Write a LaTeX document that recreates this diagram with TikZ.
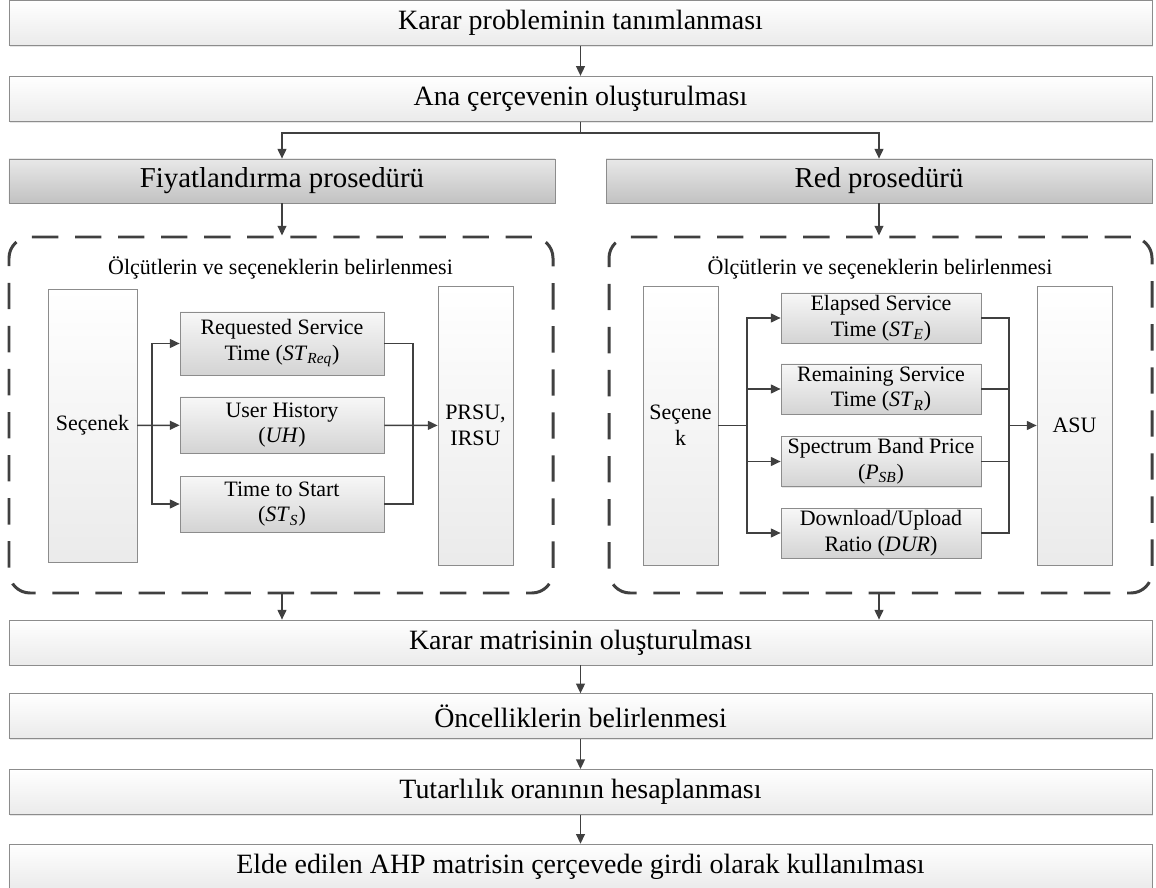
\documentclass[tikz,border=0pt]{standalone}
\usepackage{fontspec}
\setmainfont{Liberation Serif}
\usetikzlibrary{arrows.meta, positioning, calc, shadows}

\definecolor{linegray}{HTML}{404040}
\definecolor{edgegray}{HTML}{8C8C8C}

\begin{document}
\begin{tikzpicture}[
    node distance=0.6cm,
    mainbox/.style={
        draw=edgegray,
        top color=white,
        bottom color=black!8,
        minimum width=22.86cm,
        minimum height=0.9cm,
        inner sep=0pt,
        font=\fontsize{15.9}{19}\selectfont,
        drop shadow={opacity=0.2, shadow xshift=0.8pt, shadow yshift=-0.8pt}
    },
    procbox/.style={
        draw=edgegray,
        top color=black!9,
        bottom color=black!24,
        minimum width=10.92cm,
        minimum height=0.88cm,
        inner sep=0pt,
        font=\fontsize{16.4}{19}\selectfont,
        drop shadow={opacity=0.2, shadow xshift=0.8pt, shadow yshift=-0.8pt}
    },
    group/.style={
        draw=linegray,
        line width=1.7pt,
        dash pattern=on 15pt off 9.5pt,
        rounded corners=12pt,
        minimum height=7.12cm,
        inner sep=0pt
    },
    tall/.style={
        draw=edgegray,
        top color=white,
        bottom color=black!8,
        align=center,
        minimum width=1.5cm,
        minimum height=5.58cm,
        inner sep=1pt,
        font=\fontsize{12.5}{14.7}\selectfont,
        drop shadow={opacity=0.2, shadow xshift=0.8pt, shadow yshift=-0.8pt}
    },
    crit/.style={
        draw=edgegray,
        top color=black!3,
        bottom color=black!17,
        align=center,
        minimum width=4.0cm,
        minimum height=1.0cm,
        inner sep=1pt,
        font=\fontsize{12.5}{14.7}\selectfont,
        drop shadow={opacity=0.2, shadow xshift=0.8pt, shadow yshift=-0.8pt}
    },
    label/.style={
        font=\fontsize{12.5}{14.7}\selectfont
    },
    arrow/.style={
        -{Triangle[length=5.5pt,width=5pt]},
        line width=0.85pt,
        draw=linegray
    },
    line/.style={
        line width=0.85pt,
        draw=linegray
    }
]
\useasboundingbox (0,0) rectangle (23.12,-17.76);

% Main steps (top)
\node (prob) [mainbox] at (11.61,-0.46) {Karar probleminin tanımlanması};
\node (frame) [mainbox, below=of prob] {Ana çerçevenin oluşturulması};

% Procedures
\node (price) [procbox] at (5.64,-3.62) {Fiyatlandırma prosedürü};
\node (drop) [procbox] at (17.58,-3.62) {Red prosedürü};

% Criteria groups
\node (grpL) [group, minimum width=10.88cm] at (5.62,-8.30) {};
\node (grpR) [group, minimum width=10.86cm] at (17.61,-8.30) {};
\node (titleL) [label] at (5.61,-5.36) {Ölçütlerin ve seçeneklerin belirlenmesi};
\node (titleR) [label] at (17.60,-5.36) {Ölçütlerin ve seçeneklerin belirlenmesi};

% Pricing side
\node (optL) [tall, minimum width=1.78cm, minimum height=5.46cm] at (1.85,-8.51) {Seçenek};
\node (req) [crit, minimum width=4.08cm, minimum height=1.26cm] at (5.64,-6.87) {Requested Service\\Time (\textit{ST}\textsubscript{\textit{Req}})};
\node (uh) [crit, minimum width=4.08cm, minimum height=1.12cm] at (5.64,-8.50) {User History\\(\textit{UH})};
\node (tts) [crit, minimum width=4.08cm, minimum height=1.12cm] at (5.64,-10.08) {Time to Start\\(\textit{ST}\textsubscript{\textit{S}})};
\node (prsu) [tall] at (9.51,-8.51) {PRSU,\\IRSU};
\coordinate (splitL) at (3.04,-8.51);
\coordinate (joinL) at (8.26,-8.51);

% Drop side
\node (optR) [tall] at (13.61,-8.51) {Seçene\\k};
\node (est) [crit] at (17.62,-6.36) {Elapsed Service\\Time (\textit{ST}\textsubscript{\textit{E}})};
\node (rst) [crit] at (17.62,-7.78) {Remaining Service\\Time (\textit{ST}\textsubscript{\textit{R}})};
\node (psb) [crit] at (17.62,-9.23) {Spectrum Band Price\\(\textit{P}\textsubscript{\textit{SB}})};
\node (dur) [crit] at (17.62,-10.66) {Download/Upload\\Ratio (\textit{DUR})};
\node (asu) [tall] at (21.49,-8.51) {ASU};
\coordinate (splitR) at (14.94,-8.51);
\coordinate (joinR) at (20.18,-8.51);

% Main steps (bottom)
\node (matrix) [mainbox] at (11.61,-12.85) {Karar matrisinin oluşturulması};
\node (prio) [mainbox, below=0.56cm of matrix] {Öncelliklerin belirlenmesi};
\node (ratio) [mainbox, below=0.6cm of prio] {Tutarlılık oranının hesaplanması};
\node (use) [mainbox, below=0.58cm of ratio] {Elde edilen AHP matrisin çerçevede girdi olarak kullanılması};

% Paths
\coordinate (split) at (11.61,-2.66);
\draw [arrow] (prob) -- (frame);
\draw [line] (frame) -- (split);
\draw [arrow] (split) -| (price);
\draw [arrow] (split) -| (drop);
\draw [arrow] (price) -- (price |- grpL.north);
\draw [arrow] (drop) -- (drop |- grpR.north);

\draw [line] (optL) -- (splitL);
\draw [arrow] (splitL) |- (req);
\draw [arrow] (optL) -- (uh);
\draw [arrow] (splitL) |- (tts);
\draw [line] (req) -| (joinL);
\draw [line] (tts) -| (joinL);
\draw [arrow] (uh) -- (prsu);

\draw [line] (optR) -- (splitR);
\draw [arrow] (splitR) |- (est);
\draw [arrow] (splitR) |- (rst);
\draw [arrow] (splitR) |- (psb);
\draw [arrow] (splitR) |- (dur);
\draw [line] (est) -| (joinR);
\draw [line] (rst) -| (joinR);
\draw [line] (psb) -| (joinR);
\draw [line] (dur) -| (joinR);
\draw [arrow] (joinR) -- (asu);

\draw [arrow] (grpL.south -| price) -- (price |- matrix.north);
\draw [arrow] (grpR.south -| drop) -- (drop |- matrix.north);
\draw [arrow] (matrix) -- (prio);
\draw [arrow] (prio) -- (ratio);
\draw [arrow] (ratio) -- (use);

\end{tikzpicture}
\end{document}
